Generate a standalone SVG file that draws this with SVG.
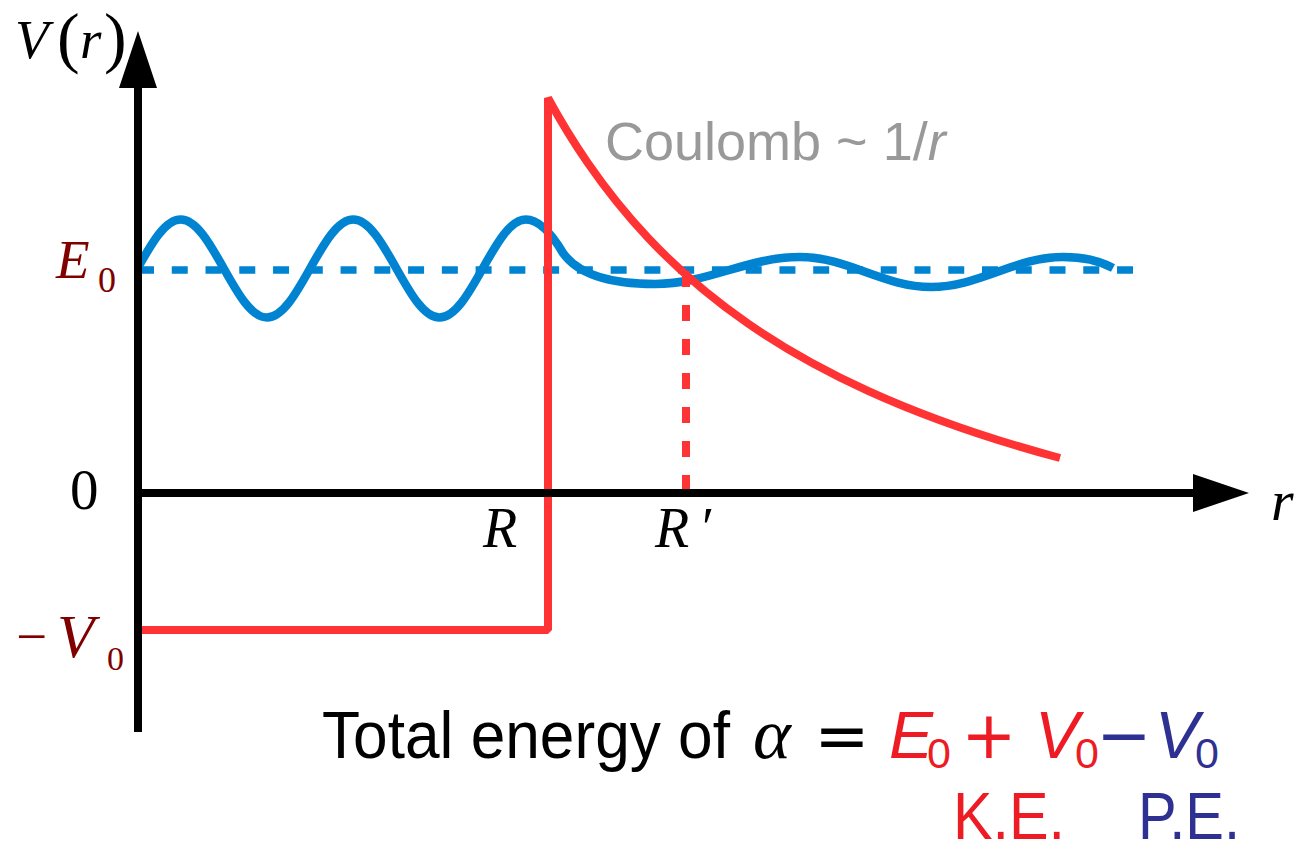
<svg xmlns="http://www.w3.org/2000/svg" width="1295" height="843" viewBox="0 0 1295 843">
<style>
.ax{stroke:#000;stroke-width:8;fill:none}
.red{stroke:#ff3333;stroke-width:8;fill:none}
.blue{stroke:#0084d1;stroke-width:8.5;fill:none;stroke-linejoin:round}
.serif{font-family:"Liberation Serif","DejaVu Serif",serif}
.sans{font-family:"Liberation Sans",Arial,sans-serif}
.sym{font-family:"DejaVu Sans","Liberation Sans",sans-serif}
.it{font-style:italic}
.dr{fill:#800000}
.kr{fill:#ed1c24}
.kb{fill:#2e3192}
</style>
<g id="connectors">
<path id="wave" class="blue" d="M137.5,268.5 C151.57,243.4 165.03,219.5 180.65,219.5 C196.27,219.5 209.73,243.4 223.8,268.5 C237.87,293.6 251.33,317.5 266.95,317.5 C282.57,317.5 296.03,293.6 310.1,268.5 C324.17,243.4 337.63,219.5 353.25,219.5 C368.87,219.5 382.33,243.4 396.4,268.5 C410.47,293.6 423.93,317.5 439.55,317.5 C455.17,317.5 468.63,293.6 482.7,268.5 C496.77,243.4 510.23,219.5 525.85,219.5 C540,219.5 553,236 563,253 C580,277 615,284 655,284 C707.8,284 747.2,257 800,257 C847.7,257 883.3,287 931,287 C979,287 1015,257 1063,257 C1082,257 1100,261 1113,268"/>
<line id="e0-line" x1="138" y1="270" x2="1133" y2="270" stroke="#0084d1" stroke-width="7.5" stroke-dasharray="16 17.76"/>
<path id="potential" class="red" stroke-linejoin="bevel" d="M138,630 H548 V98 C561.33,122.5 574.67,143.98 588,163.3 C608,192.29 628,216.55 648,237.8 C681.33,273.21 714.67,300.46 748,323.5 C788,351.15 828,372.59 868,390.8 C932,419.94 996,440.8 1060,458"/>
<line id="rprime-line" x1="686" y1="271" x2="686" y2="491" stroke="#ff3333" stroke-width="8" stroke-dasharray="16 18"/>
<line id="y-axis" class="ax" x1="138" y1="86" x2="138" y2="732"/>
<polygon id="y-arrow" points="138,31 119,88 157,88" fill="#000"/>
<line id="x-axis" class="ax" x1="134" y1="493" x2="1195" y2="493"/>
<polygon id="x-arrow" points="1249,493 1193,474 1193,512" fill="#000"/>
</g>
<g id="label-V">
<text class="serif it" x="15" y="58" font-size="55">V</text>
<text class="serif" x="57" y="60" font-size="68">(</text>
<text class="serif it" x="80" y="58" font-size="55">r</text>
<text class="serif" x="104" y="60" font-size="68">)</text>
</g>
<g id="label-E0" class="dr">
<text class="serif it" x="56" y="278" font-size="55">E</text>
<text class="serif" x="98" y="292" font-size="36">0</text>
</g>
<g id="label-zero"><text class="serif" x="70" y="509" font-size="57">0</text></g>
<g id="label-V0" class="dr">
<text class="serif" x="16" y="655" font-size="55">−</text>
<text class="serif it" x="57" y="657" font-size="61">V</text>
<text class="serif" x="107" y="670" font-size="34">0</text>
</g>
<g id="label-R"><text class="serif it" x="483" y="547" font-size="56">R</text></g>
<g id="label-Rp"><text class="serif it" x="655" y="547" font-size="56">R</text><text class="serif" x="702" y="547" font-size="56">′</text></g>
<g id="label-r"><text class="serif it" x="1271" y="520" font-size="58">r</text></g>
<g id="label-coulomb"><text class="sans" x="605" y="160" font-size="54" fill="#999999">Coulomb ~ 1/<tspan font-style="italic">r</tspan></text></g>
<g id="formula">
<text class="sans" x="322" y="758" font-size="66" textLength="408" lengthAdjust="spacingAndGlyphs">Total energy of</text>
<text class="serif it" x="753" y="758" font-size="72">α</text>
<text class="sym" x="842" y="758" font-size="66" text-anchor="middle">=</text>
<text class="sans it kr" x="889" y="758" font-size="66">E</text>
<text class="sans kr" x="927" y="768" font-size="43">0</text>
<text class="sym kr" x="989" y="758" font-size="66" text-anchor="middle">+</text>
<text class="sans it kr" x="1035" y="758" font-size="66">V</text>
<text class="sans kr" x="1075" y="768" font-size="43">0</text>
<text class="sym kb" x="1124" y="758" font-size="66" text-anchor="middle">−</text>
<text class="sans it kb" x="1155" y="758" font-size="66">V</text>
<text class="sans kb" x="1195" y="768" font-size="43">0</text>
</g>
<g id="labels-ke-pe">
<text class="sans kr" x="953" y="839" font-size="66" textLength="112" lengthAdjust="spacingAndGlyphs">K.E.</text>
<text class="sans kb" x="1138" y="839" font-size="66" textLength="102" lengthAdjust="spacingAndGlyphs">P.E.</text>
</g>
</svg>
